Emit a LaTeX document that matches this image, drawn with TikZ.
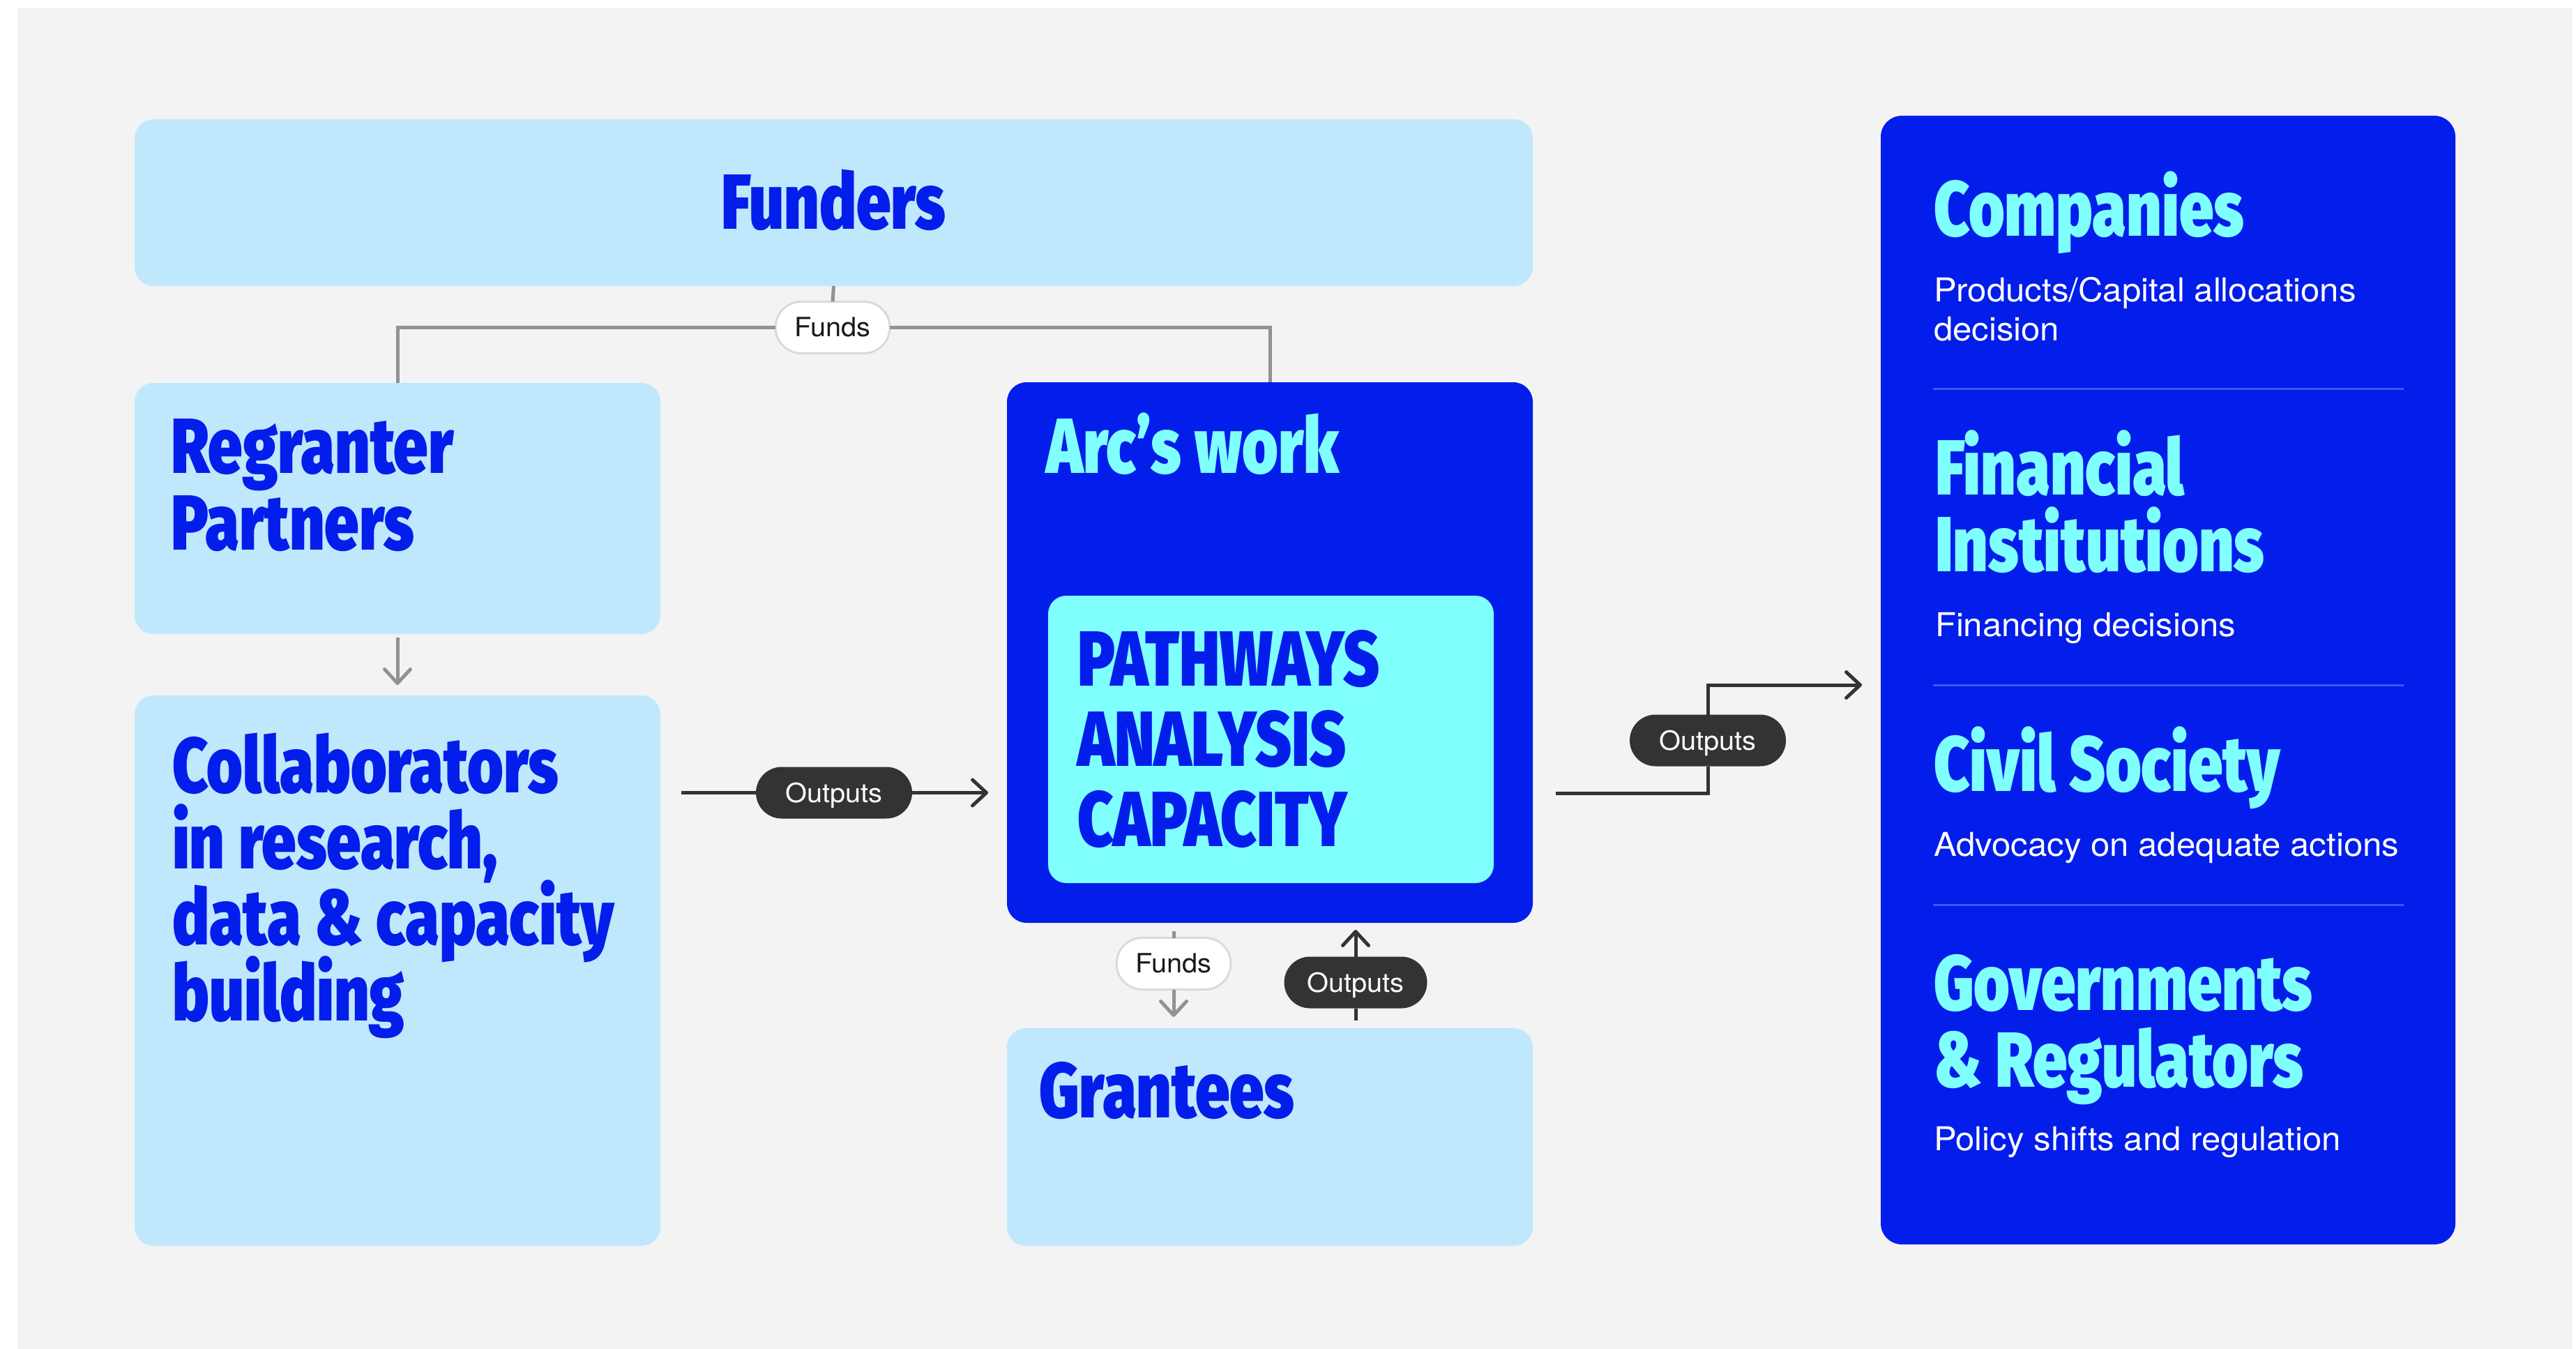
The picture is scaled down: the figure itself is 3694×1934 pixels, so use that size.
\documentclass[tikz,border=0pt]{standalone}
\usepackage{fontspec}
\usetikzlibrary{arrows.meta}
\newfontfamily\headfont[FakeStretch=0.79]{Fira Sans Black}
\newfontfamily\bodyfont[FakeStretch=1.045]{TeX Gyre Heros}
% keep baselines evenly spaced even when tall lines come close
\newcommand\flatlines{\lineskiplimit=-500pt\relax}
\definecolor{canvas}{HTML}{F3F3F3}
\definecolor{paleblue}{HTML}{C0E8FC}
\definecolor{royal}{HTML}{031DEB}
\definecolor{aqua}{HTML}{80FFFF}
\definecolor{ink}{HTML}{333333}
\definecolor{wire}{HTML}{929292}
\definecolor{pillrim}{HTML}{DADADA}
\definecolor{divider}{HTML}{3D5BEE}
\begin{document}
\begin{tikzpicture}[x=1pt,y=-1pt,
  card/.style={shape=rectangle, inner sep=0pt, outer sep=0pt, draw=none},
  palecard/.style={card, fill=paleblue, rounded corners=27pt},
  royalcard/.style={card, fill=royal, rounded corners=28pt},
  % multi-line titles: the node's base is the baseline of its last line
  head/.style={inner sep=0pt, outer sep=0pt, anchor=base west, align=left,
    font=\headfont\fontsize{112}{110}\selectfont\flatlines},
  bluehead/.style={head, text=royal},
  aquahead/.style={head, text=aqua},
  body/.style={inner sep=0pt, outer sep=0pt, anchor=base west, align=left,
    text=white, font=\bodyfont\fontsize{47}{56}\selectfont\flatlines},
  pill/.style={shape=rectangle, rounded corners=37pt, minimum height=74pt,
    inner sep=0pt, outer sep=0pt, text depth=0pt,
    font=\bodyfont\fontsize{38}{38}\selectfont},
  darkpill/.style={pill, fill=ink, text=white, text height=27pt, minimum width=224pt},
  lightpill/.style={pill, fill=white, draw=pillrim, line width=3pt, text=black!90,
    text height=26.5pt, minimum width=164pt},
  chevron/.tip={Straight Barb[length=20pt, width=37pt, line width=5pt, round]},
  grayline/.style={draw=wire, line width=5pt},
  darkline/.style={draw=ink, line width=5pt},
  grayarrow/.style={grayline, -chevron},
  darkarrow/.style={darkline, -chevron},
  divline/.style={draw=divider, line width=3pt}
]
\useasboundingbox (0,0) rectangle (3694,1934);
\fill[white] (0,0) rectangle (3694,1934);
\fill[canvas] (25,11) rectangle (3689,1934);

% ---- boxes ----
\node[palecard, minimum width=2005pt, minimum height=239pt] (funders) at (1195.5,290.5) {};
\node[palecard, minimum width=754pt, minimum height=360pt] (regranter) at (570,729) {};
\node[palecard, minimum width=754pt, minimum height=789pt] (collab) at (570,1391.5) {};
\node[royalcard, minimum width=754pt, minimum height=775pt] (arc) at (1821,935.5) {};
\node[card, fill=aqua, rounded corners=26pt, minimum width=639pt, minimum height=412pt] (pathways) at (1822.5,1060) {};
\node[palecard, minimum width=754pt, minimum height=312pt] (grantees) at (1821,1630) {};
\node[royalcard, rounded corners=30pt, minimum width=824pt, minimum height=1618pt] (panel) at (3109,975) {};

% ---- box titles ----
\node[head, anchor=base, text=royal] (tFunders) at (1195.5,329) {Funders};
\node[bluehead] (tRegranter) at (245,788) {Regranter\\Partners};
\node[bluehead, font=\headfont\fontsize{112}{109}\selectfont\flatlines] (tCollab) at (247,1463) {Collaborators\\in research,\\data \& capacity\\building};
\node[aquahead] (tArc) at (1500,678) {Arc’s work};
\node[bluehead, font=\headfont\fontsize{112}{115}\selectfont\flatlines] (tPathways) at (1545,1213) {PATHWAYS\\ANALYSIS\\CAPACITY};
\node[bluehead] (tGrantees) at (1490,1602) {Grantees};

% ---- audience panel ----
\node[aquahead] (tCompanies) at (2773,339) {Companies};
\node[body] (dCompanies) at (2773,488) {Products/Capital allocations\\decision};
\draw[divline] (2772,557) -- (3447,557);
\node[aquahead] (tFinancial) at (2775,819) {Financial\\Institutions};
\node[body] (dFinancial) at (2775,912) {Financing decisions};
\draw[divline] (2772,982) -- (3447,982);
\node[aquahead] (tCivil) at (2773,1134) {Civil Society};
\node[body] (dCivil) at (2773,1227) {Advocacy on adequate actions};
\draw[divline] (2772,1297) -- (3447,1297);
\node[aquahead] (tGov) at (2773,1558) {Governments\\\& Regulators};
\node[body] (dGov) at (2773,1649) {Policy shifts and regulation};

% ---- flow labels ----
\node[lightpill] (fundsTop) at (1194,469.5) {Funds};
\node[darkpill] (outLeft) at (1196,1136.5) {Outputs};
\node[lightpill] (fundsDown) at (1683,1381.5) {Funds};
\node[darkpill, minimum width=205pt] (outUp) at (1944,1408.5) {Outputs};
\node[darkpill] (outRight) at (2449,1061.5) {Outputs};
\coordinate (arcExit) at (2231,1137);
\coordinate (panelEntry) at (2670,982);

% ---- connectors ----
\draw[grayline] (funders.south) -- (fundsTop.north);
\draw[grayline] (fundsTop.west) -| (regranter.north);
\draw[grayline] (fundsTop.east) -| (arc.north);
\draw[grayarrow, shorten <=5pt, shorten >=15pt] (regranter.south) -- (collab.north);
\draw[darkline, shorten <=30pt] (collab.east |- outLeft) -- (outLeft.west);
\draw[darkarrow, shorten >=27pt] (outLeft.east) -- (arc.west |- outLeft);
\draw[darkline] (arcExit) -| (outRight.south);
\draw[darkarrow] (outRight.north) |- (panelEntry);
\draw[grayline, shorten <=12pt] (arc.south -| fundsDown) -- (fundsDown.north);
\draw[grayarrow, shorten >=16pt] (fundsDown.south) -- (grantees.north -| fundsDown);
\draw[darkline, shorten <=11pt] (grantees.north -| outUp) -- (outUp.south);
\draw[darkarrow, shorten >=10pt] (outUp.north) -- (arc.south -| outUp);
\end{tikzpicture}
\end{document}
